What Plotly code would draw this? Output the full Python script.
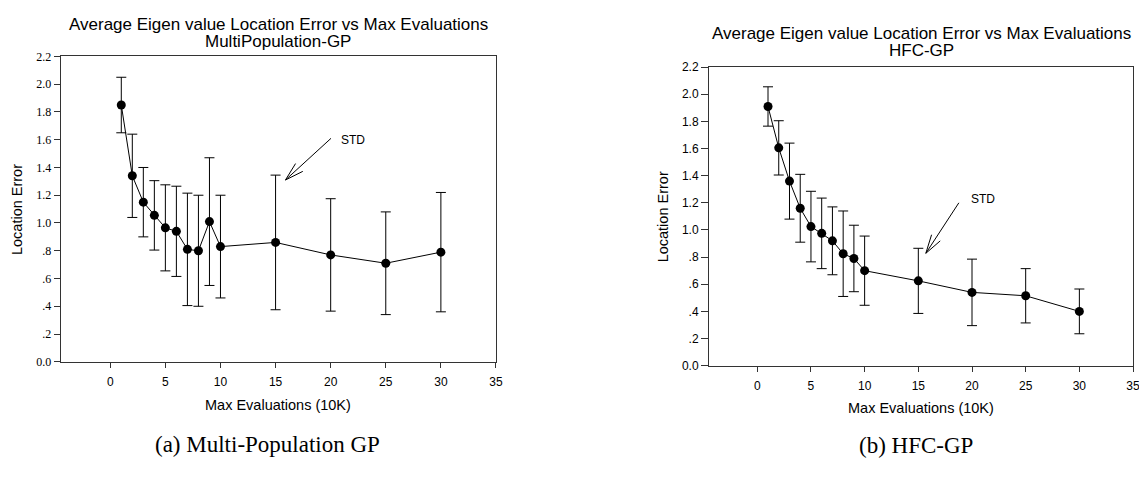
import math
import plotly.graph_objects as go

# ---- data ----
evals = [1, 2, 3, 4, 5, 6, 7, 8, 9, 10, 15, 20, 25, 30]
mp_mean = [1.85, 1.34, 1.15, 1.055, 0.965, 0.94, 0.81, 0.80, 1.01, 0.83, 0.86, 0.77, 0.71, 0.79]
mp_std = [0.20, 0.30, 0.25, 0.25, 0.31, 0.325, 0.405, 0.40, 0.46, 0.37, 0.485, 0.405, 0.37, 0.43]
hfc_mean = [1.91, 1.605, 1.36, 1.16, 1.025, 0.975, 0.92, 0.825, 0.79, 0.70, 0.625, 0.54, 0.515, 0.40]
hfc_std = [0.145, 0.20, 0.28, 0.25, 0.26, 0.26, 0.25, 0.315, 0.245, 0.255, 0.24, 0.245, 0.20, 0.165]

x_ticks = [0, 5, 10, 15, 20, 25, 30, 35]
y_ticks = [0.0, 0.2, 0.4, 0.6, 0.8, 1.0, 1.2, 1.4, 1.6, 1.8, 2.0, 2.2]
y_ticktext = ["0.0", ".2", ".4", ".6", ".8", "1.0", "1.2", "1.4", "1.6", "1.8", "2.0", "2.2"]

title_line1 = "Average Eigen value Location Error vs Max Evaluations"
titles_line2 = ["MultiPopulation-GP", "HFC-GP"]
captions = ["(a) Multi-Population GP", "(b) HFC-GP"]
x_title = "Max Evaluations (10K)"
y_title = "Location Error"

SANS = "Liberation Sans, Arial, sans-serif"
SERIF = "Liberation Serif, Times New Roman, serif"
OFF = 8  # default page body margin
W, H = 1147 - OFF, 484 - OFF

fig = go.Figure()
for i, (m, s) in enumerate([(mp_mean, mp_std), (hfc_mean, hfc_std)]):
    suffix = "" if i == 0 else "2"
    fig.add_trace(go.Scatter(
        x=evals, y=m, mode="lines+markers",
        xaxis="x" + suffix, yaxis="y" + suffix,
        line=dict(color="black", width=1),
        marker=dict(color="black", size=9),
        error_y=dict(type="data", array=s, visible=True, color="black",
                     thickness=1, width=5),
        showlegend=False,
    ))

# plot-area pixel boxes in the page (left, right, top, bottom)
boxes = [(61, 499, 50.7, 365.3), (713.3, 1140, 61.7, 369.3)]

def px(x):
    return (x - OFF) / W

def py(y):
    return 1 - (y - OFF) / H

axis_common = dict(showline=True, linecolor="#333", linewidth=1, mirror=True,
                   showgrid=False, zeroline=False, ticks="outside",
                   tickcolor="#333", tickwidth=1)

layout = dict(width=W, height=H, margin=dict(l=0, r=0, t=0, b=0),
              paper_bgcolor="white", plot_bgcolor="white", showlegend=False)

for i, (l, r, t, b) in enumerate(boxes):
    suffix = "" if i == 0 else "2"
    layout["xaxis" + suffix] = dict(
        axis_common, domain=[px(l), min(px(r), 1.0)], range=[-4.5, 35],
        tickvals=x_ticks, ticklen=5, ticklabelstandoff=4,
        tickfont=dict(family=SANS, size=12, color="black"),
        anchor="y" + suffix)
    layout["yaxis" + suffix] = dict(
        axis_common, domain=[py(b), py(t)], range=[0, 2.2],
        tickvals=y_ticks, ticktext=y_ticktext, ticklen=6 if i == 0 else 7,
        tickfont=dict(family=SERIF if i == 0 else SANS, size=12, color="black"),
        anchor="x" + suffix)

fig.update_layout(**layout)

ann = []
title_pos = [(280, 17.5, 35), (927, 27.3, 44.5)]
for i, (cx, y1, y2) in enumerate(title_pos):
    ann.append(dict(x=px(cx), y=py(y1), xref="paper", yref="paper", text=title_line1,
                    showarrow=False, font=dict(family=SANS, size=17, color="black"),
                    xanchor="center", yanchor="middle"))
    ann.append(dict(x=px(cx), y=py(y2), xref="paper", yref="paper", text=titles_line2[i],
                    showarrow=False, font=dict(family=SANS, size=17, color="black"),
                    xanchor="center", yanchor="middle"))

xt_pos = [(280, 410), (927, 412.7)]
yt_pos = [(17, 208), (667, 215.5)]
cap_pos = [(269, 451), (921.5, 452)]
for i in range(2):
    ann.append(dict(x=px(xt_pos[i][0]), y=py(xt_pos[i][1]), xref="paper", yref="paper",
                    text=x_title, showarrow=False,
                    font=dict(family=SANS, size=14.5, color="black"),
                    xanchor="center", yanchor="middle"))
    ann.append(dict(x=px(yt_pos[i][0]), y=py(yt_pos[i][1]), xref="paper", yref="paper",
                    text=y_title, showarrow=False, textangle=-90,
                    font=dict(family=SANS, size=14.5, color="black"),
                    xanchor="center", yanchor="middle"))
    ann.append(dict(x=px(cap_pos[i][0]), y=py(cap_pos[i][1]), xref="paper", yref="paper",
                    text=captions[i], showarrow=False,
                    font=dict(family=SERIF, size=23, color="black"),
                    xanchor="center", yanchor="middle"))

# STD arrows: head (data coords), tail offset (px), text position (data coords)
arrows = [
    dict(xref="x", yref="y", head=(15.9, 1.31), tail=(47, -43), text=(22.0, 1.60)),
    dict(xref="x2", yref="y2", head=(15.7, 0.828), tail=(34, -52), text=(21.0, 1.228)),
]
for a in arrows:
    hx, hy = a["head"]
    tx, ty = a["tail"]
    ann.append(dict(x=hx, y=hy, xref=a["xref"], yref=a["yref"], ax=tx, ay=ty,
                    text="", showarrow=True, arrowhead=0, arrowwidth=1,
                    arrowcolor="black", standoff=0, startstandoff=0))
    ang = math.atan2(ty, tx)
    for d in (-16, 16):
        th = ang + math.radians(d)
        ann.append(dict(x=hx, y=hy, xref=a["xref"], yref=a["yref"],
                        ax=21 * math.cos(th), ay=21 * math.sin(th),
                        text="", showarrow=True, arrowhead=0, arrowwidth=1,
                        arrowcolor="black", standoff=0, startstandoff=0))
    ann.append(dict(x=a["text"][0], y=a["text"][1], xref=a["xref"], yref=a["yref"],
                    text="STD", showarrow=False,
                    font=dict(family=SANS, size=12, color="black"),
                    xanchor="center", yanchor="middle"))

fig.update_layout(annotations=ann)
fig.write_html("out.html")
